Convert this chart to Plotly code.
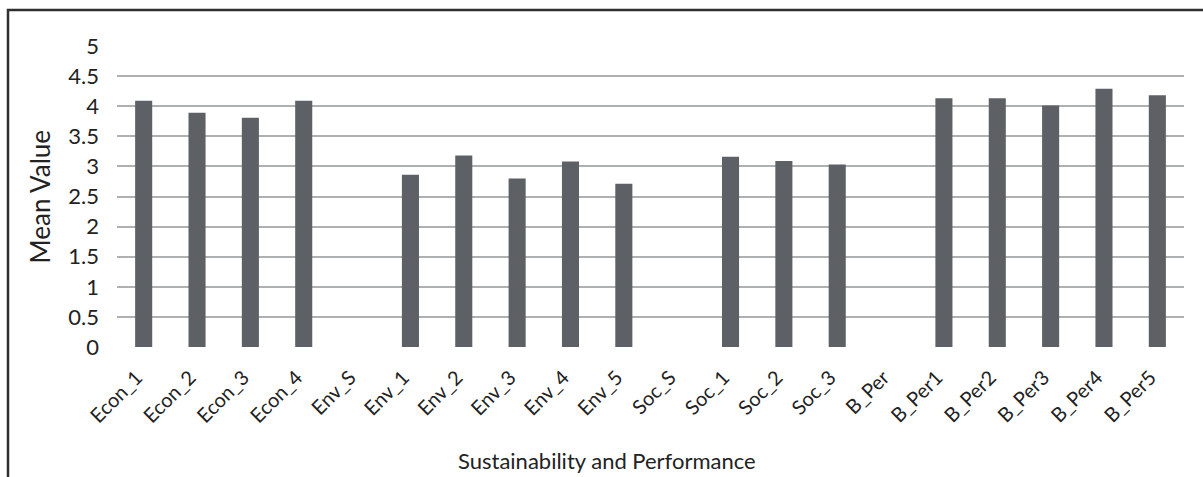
import plotly.graph_objects as go

categories = ["Econ_1", "Econ_2", "Econ_3", "Econ_4", "Env_S", "Env_1", "Env_2", "Env_3",
              "Env_4", "Env_5", "Soc_S", "Soc_1", "Soc_2", "Soc_3", "B_Per", "B_Per1",
              "B_Per2", "B_Per3", "B_Per4", "B_Per5"]
mean_values = [4.09, 3.89, 3.81, 4.09, None, 2.86, 3.18, 2.80,
               3.08, 2.71, None, 3.16, 3.09, 3.03, None, 4.13,
               4.13, 4.01, 4.29, 4.18]
y_ticks = [0, 0.5, 1, 1.5, 2, 2.5, 3, 3.5, 4, 4.5, 5]
y_tick_text = ["0", "0.5", "1", "1.5", "2", "2.5", "3", "3.5", "4", "4.5", "5"]

W, H = 1203, 477
L, R, T, B = 117, 1184, 46, 347
pw, ph = R - L, B - T

def px(x):
    return (x - L) / pw

def py(y):
    return (B - y) / ph

FONT = "Lato"

fig = go.Figure(go.Bar(x=categories, y=mean_values, marker=dict(color="#5d6064", line=dict(width=0)),
                       showlegend=False))

fig.update_layout(
    width=W, height=H, autosize=False,
    margin=dict(l=L, r=W - R, t=T, b=H - B, pad=0),
    paper_bgcolor="white", plot_bgcolor="white",
    bargap=0.68,
    font=dict(family=FONT, color="#222222"),
    xaxis=dict(type="category", tickangle=-45, tickfont=dict(size=20, family=FONT, color="#222222"),
               showgrid=False, showline=False, zeroline=False, ticks="",
               ticklabelstandoff=14, ticklabelshift=-7),
    yaxis=dict(range=[0, 5], tickvals=y_ticks, ticktext=y_tick_text,
               tickfont=dict(size=22, family=FONT, color="#222222"),
               showgrid=True, gridcolor="#aeb0b2", gridwidth=2,
               zeroline=False, showline=False, ticks="", ticklabelstandoff=17),
    annotations=[
        dict(text="Mean Value", xref="paper", yref="paper", x=px(39), y=py(196.5),
             showarrow=False, textangle=-90, font=dict(size=26, family=FONT, color="#222222"),
             xanchor="center", yanchor="middle"),
        dict(text="Sustainability and Performance", xref="paper", yref="paper", x=px(607), y=py(460),
             showarrow=False, font=dict(size=22, family=FONT, color="#222222"),
             xanchor="center", yanchor="middle"),
    ],
    shapes=[
        dict(type="path", xref="paper", yref="paper",
             path=f"M {px(8)},{py(480)} L {px(8)},{py(10)} L {px(1210)},{py(10)}",
             line=dict(color="#2f2f2f", width=2.5)),
    ],
)

fig.write_html("out.html")
